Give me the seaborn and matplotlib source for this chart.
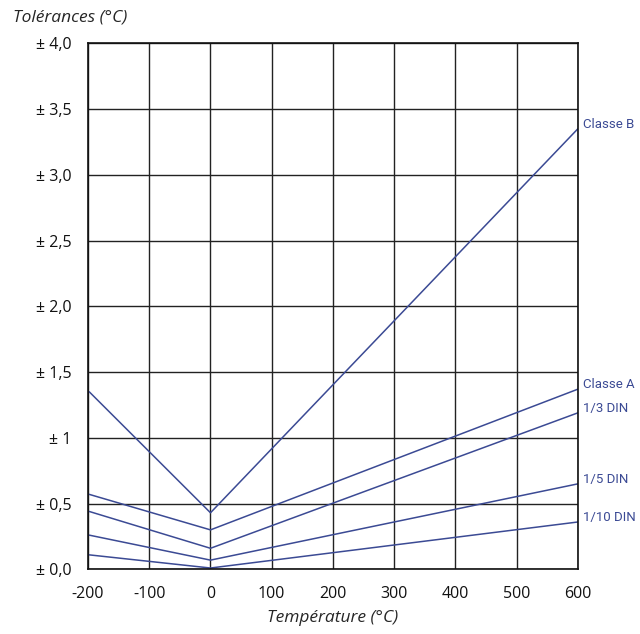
import pandas as pd
import matplotlib.pyplot as plt
import seaborn as sns

temps = [-198, 0, 600]
classe_b = [1.35, 0.43, 3.35]
classe_a = [0.57, 0.30, 1.37]
din_1_3 = [0.44, 0.16, 1.19]
din_1_5 = [0.26, 0.07, 0.65]
din_1_10 = [0.11, 0.01, 0.36]
series_names = ["Classe B", "Classe A", "1/3 DIN", "1/5 DIN", "1/10 DIN"]

x_ticks = [-200, -100, 0, 100, 200, 300, 400, 500, 600]
y_ticks = [0, 0.5, 1, 1.5, 2, 2.5, 3, 3.5, 4]
y_tick_labels = ["± 0,0", "± 0,5", "± 1", "± 1,5", "± 2,0", "± 2,5", "± 3,0", "± 3,5", "± 4,0"]

line_color = "#3b4a94"

rows = []
for name, vals in zip(series_names, [classe_b, classe_a, din_1_3, din_1_5, din_1_10]):
    for t, v in zip(temps, vals):
        rows.append({"Température": t, "Tolérance": v, "Classe": name})
df = pd.DataFrame(rows)

sns.set_style("white")
plt.rcParams["font.family"] = ["Open Sans", "DejaVu Sans"]
plt.rcParams["axes.unicode_minus"] = False

fig = plt.figure(figsize=(6.4, 6.34), dpi=100)
ax = fig.add_axes([0.1375, 0.102, 0.7655, 0.8298])

sns.lineplot(data=df, x="Température", y="Tolérance", hue="Classe",
             palette=[line_color] * len(series_names), legend=False,
             linewidth=1.1, ax=ax)

for name in series_names:
    last = df[df["Classe"] == name].iloc[-1]
    ax.annotate(name, (last["Température"], last["Tolérance"]),
                xytext=(4, 3), textcoords="offset points",
                ha="left", va="center", color=line_color, fontsize=9.5,
                family=["Roboto", "DejaVu Sans"],
                annotation_clip=False)

ax.set_xlim(-200, 600)
ax.set_ylim(0, 4.0)
ax.set_xticks(x_ticks)
ax.set_yticks(y_ticks)
ax.set_yticklabels(y_tick_labels)
ax.tick_params(length=0, labelsize=11.5, colors="#111111")
ax.tick_params(axis="x", pad=12)
ax.tick_params(axis="y", pad=12)
ax.grid(True, color="#222222", linewidth=1)
for s in ax.spines.values():
    s.set_color("#111111")
    s.set_linewidth(1.2)

ax.set_xlabel("Température (°C)", fontsize=12.5, style="italic", labelpad=6)
ax.set_ylabel("")
fig.text(0.02, 0.972, "Tolérances (°C)", fontsize=12.5, style="italic",
         ha="left", va="center")

plt.savefig("out.png", dpi=100)
